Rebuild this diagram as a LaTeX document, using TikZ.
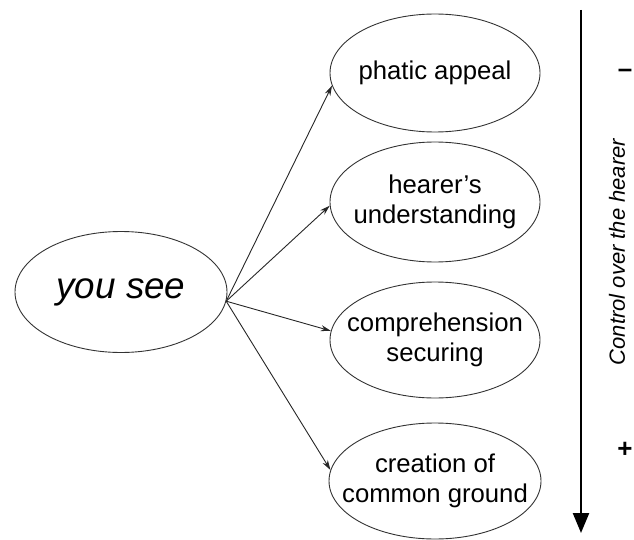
\documentclass[tikz,border=0pt]{standalone}
\usepackage{fontspec}
\setmainfont{Liberation Sans}
\usetikzlibrary{shapes.geometric,arrows.meta}
\begin{document}
\begin{tikzpicture}[x=1pt,y=-1pt,
  bub/.style={ellipse,draw=black!80,line width=0.9pt,inner xsep=-40pt,inner ysep=0pt,
    minimum width=210pt,minimum height=118pt,align=center,
    font=\fontsize{25.7}{30.5}\selectfont},
  conn/.style={draw=black!85,line width=0.9pt,-{Stealth[length=10pt,width=6pt]}},
  sign/.style={inner sep=0pt,anchor=base,font=\fontsize{26}{26}\selectfont\bfseries}]
\useasboundingbox (0,0) rectangle (634,540);
\node[bub,minimum width=212pt,minimum height=121pt,
  font=\fontsize{36.8}{40}\selectfont\itshape] (you) at (121,292) {you see};
\node[bub] (p1) at (435,73) {phatic appeal};
\node[bub,minimum height=120pt] (p2) at (435,202) {hearer's\\understanding};
\node[bub,minimum height=116pt] (p3) at (435,340) {comprehension\\securing};
\node[bub,minimum width=212pt,minimum height=116pt] (p4) at (435,481) {creation of\\common ground};
\draw[conn] (you.-5) -- (p1.187);
\draw[conn] (you.-5) -- (p2.182);
\draw[conn] (you.-5) -- (p3.175);
\draw[conn] (you.-5) -- (p4.174);
\coordinate (atop) at (581,10);
\coordinate (abot) at (581,533);
\draw[line width=2.4pt,-{Triangle[length=20pt,width=16pt]}] (atop) -- (abot);
\node[rotate=90,inner sep=0pt,font=\fontsize{22}{24}\selectfont\itshape] (lab) at (617,252) {Control over the hearer};
\node[sign] (minus) at (625,78) {–};
\node[sign] (plus) at (625,457) {+};
\end{tikzpicture}
\end{document}
